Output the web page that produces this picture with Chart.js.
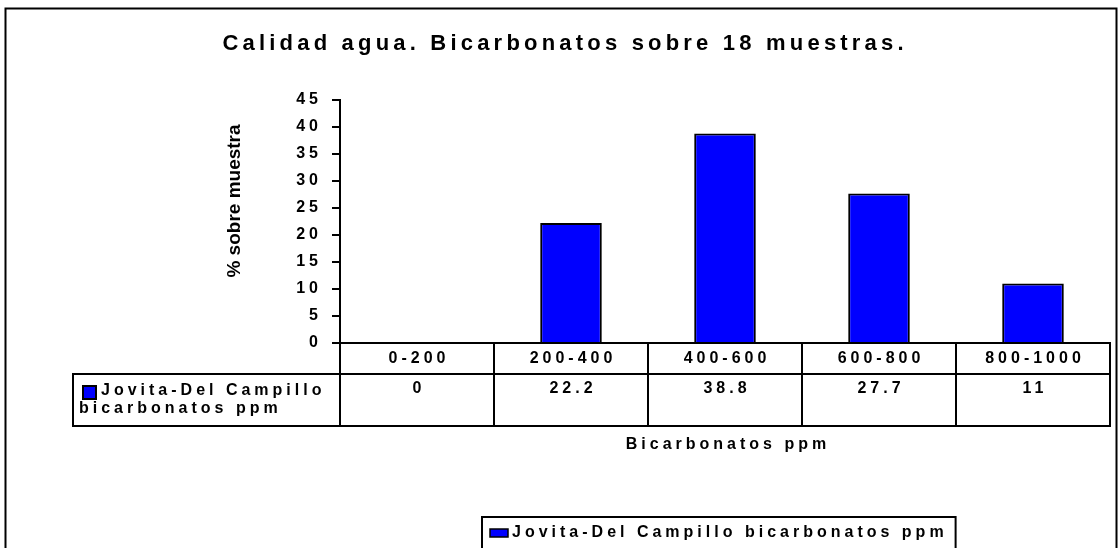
<!DOCTYPE html>
<html>
<head>
<meta charset="utf-8">
<script src="https://cdn.jsdelivr.net/npm/chart.js@4.4.1/dist/chart.umd.min.js"></script>
<style>
  html, body { margin: 0; padding: 0; background: #ffffff; }
  #c { display: block; }
</style>
</head>
<body>
<canvas id="c" width="1120" height="548"></canvas>
<script>
const categories = ['0-200', '200-400', '400-600', '600-800', '800-1000'];
const values = [0, 22.2, 38.8, 27.7, 11];
const valueLabels = ['0', '22.2', '38.8', '27.7', '11'];
const seriesName = 'Jovita-Del Campillo bicarbonatos ppm';
const seriesNameLines = ['Jovita-Del Campillo', 'bicarbonatos ppm'];
const chartTitle = 'Calidad agua. Bicarbonatos sobre 18 muestras.';
const xTitle = 'Bicarbonatos ppm';
const yTitle = '% sobre muestra';
const yMin = 0, yMax = 45, yStep = 5;

const FONT = '"Liberation Sans", Arial, sans-serif';
const BLUE = '#0000FF';
const SP = 4.0;
const SPACING = SP + 'px';

const spacingPlugin = {
  id: 'spacingPlugin',
  beforeDraw(chart) { chart.ctx.letterSpacing = SPACING; }
};

const tablePlugin = {
  id: 'tablePlugin',
  afterDraw(chart) {
    const ctx = chart.ctx;
    const ca = chart.chartArea;
    const xs = chart.scales.x;
    const n = categories.length;
    const w = (ca.right - ca.left) / n;
    const row1 = ca.bottom + 31;
    const row2 = row1 + 52;
    const legLeft = 73;
    ctx.save();
    // outer frame
    ctx.strokeStyle = '#000';
    ctx.lineWidth = 2;
    ctx.strokeRect(5.5, 8.5, 1111, 700);

    // title
    ctx.fillStyle = '#000';
    ctx.font = 'bold 22px ' + FONT;
    ctx.letterSpacing = '4.2px';
    ctx.textAlign = 'left';
    ctx.textBaseline = 'middle';
    const tw = ctx.measureText(chartTitle).width - 4.2;
    ctx.fillText(chartTitle, 563 - tw / 2, 44);

    // baseline + table lines
    ctx.lineWidth = 2;
    ctx.beginPath();
    ctx.moveTo(ca.left - 8, ca.bottom); ctx.lineTo(ca.right + 1, ca.bottom);
    ctx.moveTo(legLeft - 1, row1); ctx.lineTo(ca.right + 1, row1);
    ctx.moveTo(legLeft - 1, row2); ctx.lineTo(ca.right + 1, row2);
    ctx.moveTo(legLeft, row1); ctx.lineTo(legLeft, row2);
    for (let i = 0; i <= n; i++) {
      const x = Math.round(ca.left + i * w);
      ctx.moveTo(x, ca.bottom); ctx.lineTo(x, row2);
    }
    ctx.stroke();

    // category labels and values
    ctx.font = 'bold 16px ' + FONT;
    ctx.letterSpacing = SPACING;
    ctx.textAlign = 'center';
    for (let i = 0; i < n; i++) {
      const cx = xs.getPixelForValue(i) + SP / 2;
      ctx.fillText(categories[i], cx, ca.bottom + 16);
      ctx.fillText(valueLabels[i], cx, row1 + 15);
    }

    // legend cell
    ctx.fillStyle = BLUE;
    ctx.fillRect(83, row1 + 12, 13, 13);
    ctx.lineWidth = 2;
    ctx.strokeStyle = '#000';
    ctx.strokeRect(83, row1 + 12, 13, 13);
    ctx.fillStyle = '#000';
    ctx.textAlign = 'left';
    ctx.fillText(seriesNameLines[0], 101, row1 + 17);
    ctx.fillText(seriesNameLines[1], 79, row1 + 35);

    // x title
    const xw = ctx.measureText(xTitle).width - SP;
    ctx.fillText(xTitle, 726 - xw / 2, 445);

    // y title
    ctx.save();
    ctx.letterSpacing = '0px';
    ctx.font = 'bold 19px ' + FONT;
    ctx.textAlign = 'center';
    ctx.textBaseline = 'alphabetic';
    ctx.translate(240, 201);
    ctx.rotate(-Math.PI / 2);
    ctx.fillText(yTitle, 0, 0);
    ctx.restore();

    // bottom legend
    ctx.letterSpacing = SPACING;
    ctx.font = 'bold 16px ' + FONT;
    const lw = ctx.measureText(seriesName).width;
    ctx.lineWidth = 2;
    ctx.strokeRect(482, 517, (512 + lw + 8) - 482, 40);
    ctx.fillStyle = BLUE;
    ctx.fillRect(490, 529, 18, 8);
    ctx.lineWidth = 1.5;
    ctx.strokeRect(490, 529, 18, 8);
    ctx.fillStyle = '#000';
    ctx.textAlign = 'left';
    ctx.fillText(seriesName, 512, 533);
    ctx.restore();
  }
};

new Chart(document.getElementById('c'), {
  type: 'bar',
  data: {
    labels: categories,
    datasets: [{
      label: seriesName,
      data: values,
      backgroundColor: BLUE,
      borderColor: '#000',
      borderWidth: 2,
      barPercentage: 0.4,
      categoryPercentage: 1.0
    }]
  },
  options: {
    responsive: false,
    animation: false,
    devicePixelRatio: 1,
    layout: { padding: { left: 0, top: 100, right: 10, bottom: 205 } },
    plugins: { legend: { display: false }, tooltip: { enabled: false }, title: { display: false } },
    scales: {
      x: { display: false, offset: true },
      y: {
        min: yMin, max: yMax,
        ticks: { stepSize: yStep, color: '#000', font: { family: FONT, size: 16, weight: 'bold' }, padding: 10 },
        grid: { drawOnChartArea: false, drawTicks: true, tickLength: 8, color: '#000', lineWidth: 2 },
        border: { display: true, color: '#000', width: 2 },
        afterFit(scale) { scale.width = 340; }
      }
    }
  },
  plugins: [spacingPlugin, tablePlugin]
});
</script>
</body>
</html>
